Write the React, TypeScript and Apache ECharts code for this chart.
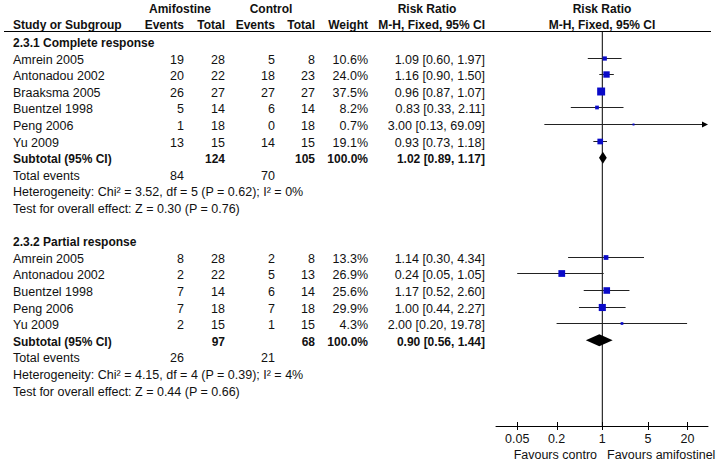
import React, { useEffect, useRef } from "react";
import * as echarts from "echarts";

// ---------- data ----------
const tickValues = [0.05, 0.2, 1, 5, 20];
const tickLabels = ["0.05", "0.2", "1", "5", "20"];

const g1Title = "2.3.1 Complete response";
const g1Studies = ["Amrein 2005", "Antonadou 2002", "Braaksma 2005", "Buentzel 1998", "Peng 2006", "Yu 2009"];
const g1AmiEvents = [19, 20, 26, 5, 1, 13];
const g1AmiTotal = [28, 22, 27, 14, 18, 15];
const g1CtrlEvents = [5, 18, 27, 6, 0, 14];
const g1CtrlTotal = [8, 23, 27, 14, 18, 15];
const g1Weight = [10.6, 24.0, 37.5, 8.2, 0.7, 19.1];
const g1RR = [1.09, 1.16, 0.96, 0.83, 3.0, 0.93];
const g1Lo = [0.6, 0.9, 0.87, 0.33, 0.13, 0.73];
const g1Hi = [1.97, 1.5, 1.07, 2.11, 69.09, 1.18];
const g1Sub = [1.02, 0.89, 1.17]; // estimate, lower, upper
const g1SubTotals = [124, 105];
const g1TotalEvents = [84, 70];
const g1Het = "Heterogeneity: Chi² = 3.52, df = 5 (P = 0.62); I² = 0%";
const g1Test = "Test for overall effect: Z = 0.30 (P = 0.76)";

const g2Title = "2.3.2 Partial response";
const g2Studies = ["Amrein 2005", "Antonadou 2002", "Buentzel 1998", "Peng 2006", "Yu 2009"];
const g2AmiEvents = [8, 2, 7, 7, 2];
const g2AmiTotal = [28, 22, 14, 18, 15];
const g2CtrlEvents = [2, 5, 6, 7, 1];
const g2CtrlTotal = [8, 13, 14, 18, 15];
const g2Weight = [13.3, 26.9, 25.6, 29.9, 4.3];
const g2RR = [1.14, 0.24, 1.17, 1.0, 2.0];
const g2Lo = [0.3, 0.05, 0.52, 0.44, 0.2];
const g2Hi = [4.34, 1.05, 2.6, 2.27, 19.78];
const g2Sub = [0.9, 0.56, 1.44];
const g2SubTotals = [97, 68];
const g2TotalEvents = [26, 21];
const g2Het = "Heterogeneity: Chi² = 4.15, df = 4 (P = 0.39); I² = 4%";
const g2Test = "Test for overall effect: Z = 0.44 (P = 0.66)";

// ---------- layout ----------
const W = 723;
const H = 463;
const ROW0 = 43;
const STEP = 16.6;
const rowY = (i: number) => ROW0 + STEP * i;
const GRID_TOP = 32;
const GRID_BOTTOM_Y = 426;
const GRID_LEFT = 496;
const GRID_RIGHT_X = 708;
const Y_MIN = (GRID_TOP - ROW0) / STEP;
const Y_MAX = (GRID_BOTTOM_Y - ROW0) / STEP;
const X_MIN = 0.0237;
const X_MAX = 41.3;

const FF = '"Liberation Sans", Arial, sans-serif';
const FONT = `12.5px ${FF}`;
const BOLD = `bold 12px ${FF}`;
const TXT = "#111";
const BLUE = "#0a0ac8";

const COL = { study: 13, ev1: 184, tot1: 225, ev2: 275, tot2: 315, w: 368, rr: 485 };

const fmt2 = (v: number) => v.toFixed(2);
const ciText = (e: number, l: number, h: number) => `${fmt2(e)} [${fmt2(l)}, ${fmt2(h)}]`;

function txt(text: string, x: number, y: number, align: string, bold = false) {
  return {
    type: "text",
    x,
    y,
    silent: true,
    style: {
      text,
      font: bold ? BOLD : FONT,
      fill: TXT,
      textAlign: align,
      textVerticalAlign: "middle",
    },
  };
}

function buildTable() {
  const els: any[] = [];
  // headers
  els.push(txt("Amifostine", 180, 9, "center", true));
  els.push(txt("Control", 271, 9, "center", true));
  els.push(txt("Risk Ratio", 427, 9, "center", true));
  els.push(txt("Risk Ratio", 602, 9, "center", true));
  els.push(txt("Study or Subgroup", COL.study, 25, "left", true));
  els.push(txt("Events", COL.ev1, 25, "right", true));
  els.push(txt("Total", COL.tot1, 25, "right", true));
  els.push(txt("Events", COL.ev2, 25, "right", true));
  els.push(txt("Total", COL.tot2, 25, "right", true));
  els.push(txt("Weight", COL.w, 25, "right", true));
  els.push(txt("M-H, Fixed, 95% CI", COL.rr, 25, "right", true));
  els.push(txt("M-H, Fixed, 95% CI", 602, 25, "center", true));
  els.push({
    type: "line",
    silent: true,
    shape: { x1: 4, y1: 31.5, x2: 711, y2: 31.5 },
    style: { stroke: "#000", lineWidth: 1 },
  });

  const groups = [
    { start: 0, title: g1Title, studies: g1Studies, ae: g1AmiEvents, at: g1AmiTotal, ce: g1CtrlEvents, ct: g1CtrlTotal, w: g1Weight, rr: g1RR, lo: g1Lo, hi: g1Hi, sub: g1Sub, subT: g1SubTotals, te: g1TotalEvents, het: g1Het, test: g1Test },
    { start: 12, title: g2Title, studies: g2Studies, ae: g2AmiEvents, at: g2AmiTotal, ce: g2CtrlEvents, ct: g2CtrlTotal, w: g2Weight, rr: g2RR, lo: g2Lo, hi: g2Hi, sub: g2Sub, subT: g2SubTotals, te: g2TotalEvents, het: g2Het, test: g2Test },
  ];
  for (const g of groups) {
    els.push(txt(g.title, COL.study, rowY(g.start), "left", true));
    g.studies.forEach((s, k) => {
      const y = rowY(g.start + 1 + k);
      els.push(txt(s, COL.study, y, "left"));
      els.push(txt(String(g.ae[k]), COL.ev1, y, "right"));
      els.push(txt(String(g.at[k]), COL.tot1, y, "right"));
      els.push(txt(String(g.ce[k]), COL.ev2, y, "right"));
      els.push(txt(String(g.ct[k]), COL.tot2, y, "right"));
      els.push(txt(g.w[k].toFixed(1) + "%", COL.w, y, "right"));
      els.push(txt(ciText(g.rr[k], g.lo[k], g.hi[k]), COL.rr, y, "right"));
    });
    const n = g.studies.length;
    const ys = rowY(g.start + 1 + n);
    els.push(txt("Subtotal (95% CI)", COL.study, ys, "left", true));
    els.push(txt(String(g.subT[0]), COL.tot1, ys, "right", true));
    els.push(txt(String(g.subT[1]), COL.tot2, ys, "right", true));
    els.push(txt("100.0%", COL.w, ys, "right", true));
    els.push(txt(ciText(g.sub[0], g.sub[1], g.sub[2]), COL.rr, ys, "right", true));
    const yt = rowY(g.start + 2 + n);
    els.push(txt("Total events", COL.study, yt, "left"));
    els.push(txt(String(g.te[0]), COL.ev1, yt, "right"));
    els.push(txt(String(g.te[1]), COL.ev2, yt, "right"));
    els.push(txt(g.het, COL.study, rowY(g.start + 3 + n), "left"));
    els.push(txt(g.test, COL.study, rowY(g.start + 4 + n), "left"));
  }
  els.push(txt("Favours contro", 597, 455, "right"));
  els.push(txt("Favours amifostinel", 607, 455, "left"));
  return els;
}

function studyData() {
  const out: number[][] = [];
  g1Studies.forEach((_, k) => out.push([g1RR[k], g1Lo[k], g1Hi[k], 1 + k, g1Weight[k]]));
  g2Studies.forEach((_, k) => out.push([g2RR[k], g2Lo[k], g2Hi[k], 13 + k, g2Weight[k]]));
  return out;
}

function diamondData() {
  return [
    [g1Sub[0], g1Sub[1], g1Sub[2], 1 + g1Studies.length],
    [g2Sub[0], g2Sub[1], g2Sub[2], 13 + g2Studies.length],
  ];
}

export default function App() {
  const ref = useRef<HTMLDivElement>(null);
  useEffect(() => {
    if (!ref.current) return;
    const chart = echarts.init(ref.current, null, { renderer: "svg" });
    const option: any = {
      animation: false,
      backgroundColor: "#fff",
      grid: {
        left: GRID_LEFT,
        right: W - GRID_RIGHT_X,
        top: GRID_TOP,
        bottom: H - GRID_BOTTOM_Y,
        containLabel: false,
      },
      xAxis: {
        type: "log",
        logBase: 10,
        min: X_MIN,
        max: X_MAX,
        position: "bottom",
        axisLine: { show: true, onZero: false, lineStyle: { color: "#000", width: 1 } },
        axisTick: { show: false },
        axisLabel: { show: false },
        splitLine: { show: false },
      },
      yAxis: {
        type: "value",
        inverse: true,
        min: Y_MIN,
        max: Y_MAX,
        show: false,
        axisLine: { onZero: false },
        splitLine: { show: false },
      },
      graphic: buildTable(),
      series: [
        {
          type: "line",
          data: [
            [1, Y_MIN],
            [1, Y_MAX],
          ],
          symbol: "none",
          silent: true,
          lineStyle: { color: "#000", width: 1 },
          z: 1,
        },
        {
          type: "custom",
          data: studyData(),
          encode: { x: [0, 1, 2], y: 3 },
          z: 3,
          silent: true,
          renderItem: (params: any, api: any) => {
            const rr = api.value(0);
            const lo = api.value(1);
            const hi = api.value(2);
            const row = api.value(3);
            const w = api.value(4);
            const y = Math.round(api.coord([1, row])[1] - 2) + 0.5;
            const xl = api.coord([Math.max(lo, X_MIN), row])[0];
            const arrow = hi > X_MAX;
            const xh = arrow ? api.coord([X_MAX, row])[0] : api.coord([hi, row])[0];
            const xc = api.coord([rr, row])[0];
            const s = Math.max(2, 1.3 * Math.sqrt(w));
            const children: any[] = [
              {
                type: "line",
                shape: { x1: xl, y1: y, x2: arrow ? xh - 3 : xh, y2: y },
                style: { stroke: "#222", lineWidth: 1 },
              },
            ];
            if (arrow) {
              children.push({
                type: "polygon",
                shape: { points: [[xh - 6, y - 3], [xh, y], [xh - 6, y + 3]] },
                style: { fill: "#000" },
              });
            }
            children.push({
              type: "rect",
              shape: { x: xc - s / 2, y: y - s / 2, width: s, height: s },
              style: { fill: BLUE },
            });
            return { type: "group", children };
          },
        },
        {
          type: "custom",
          data: diamondData(),
          encode: { x: [0, 1, 2], y: 3 },
          z: 4,
          silent: true,
          renderItem: (params: any, api: any) => {
            const row = api.value(3);
            const y = api.coord([1, row])[1] - 1.5;
            const xc = api.coord([api.value(0), row])[0];
            const xl = api.coord([api.value(1), row])[0];
            const xh = api.coord([api.value(2), row])[0];
            const h = 6;
            return {
              type: "polygon",
              shape: { points: [[xl, y], [xc, y - h], [xh, y], [xc, y + h]] },
              style: { fill: "#000" },
            };
          },
        },
        {
          type: "custom",
          data: tickValues.map((v) => [v]),
          encode: { x: 0 },
          z: 5,
          silent: true,
          renderItem: (params: any, api: any) => {
            const p = api.coord([api.value(0), Y_MAX]);
            const x = Math.round(p[0]) + 0.5;
            return {
              type: "group",
              children: [
                {
                  type: "line",
                  shape: { x1: x, y1: p[1] - 4, x2: x, y2: p[1] + 4 },
                  style: { stroke: "#000", lineWidth: 1 },
                },
                {
                  type: "text",
                  x: p[0],
                  y: p[1] + 13,
                  style: {
                    text: tickLabels[params.dataIndex],
                    font: FONT,
                    fill: TXT,
                    textAlign: "center",
                    textVerticalAlign: "middle",
                  },
                },
              ],
            };
          },
        },
      ],
    };
    chart.setOption(option);
    return () => chart.dispose();
  }, []);
  return (
    <div
      ref={ref}
      style={{ position: "fixed", left: 0, top: 0, width: W, height: H, background: "#fff" }}
    />
  );
}
